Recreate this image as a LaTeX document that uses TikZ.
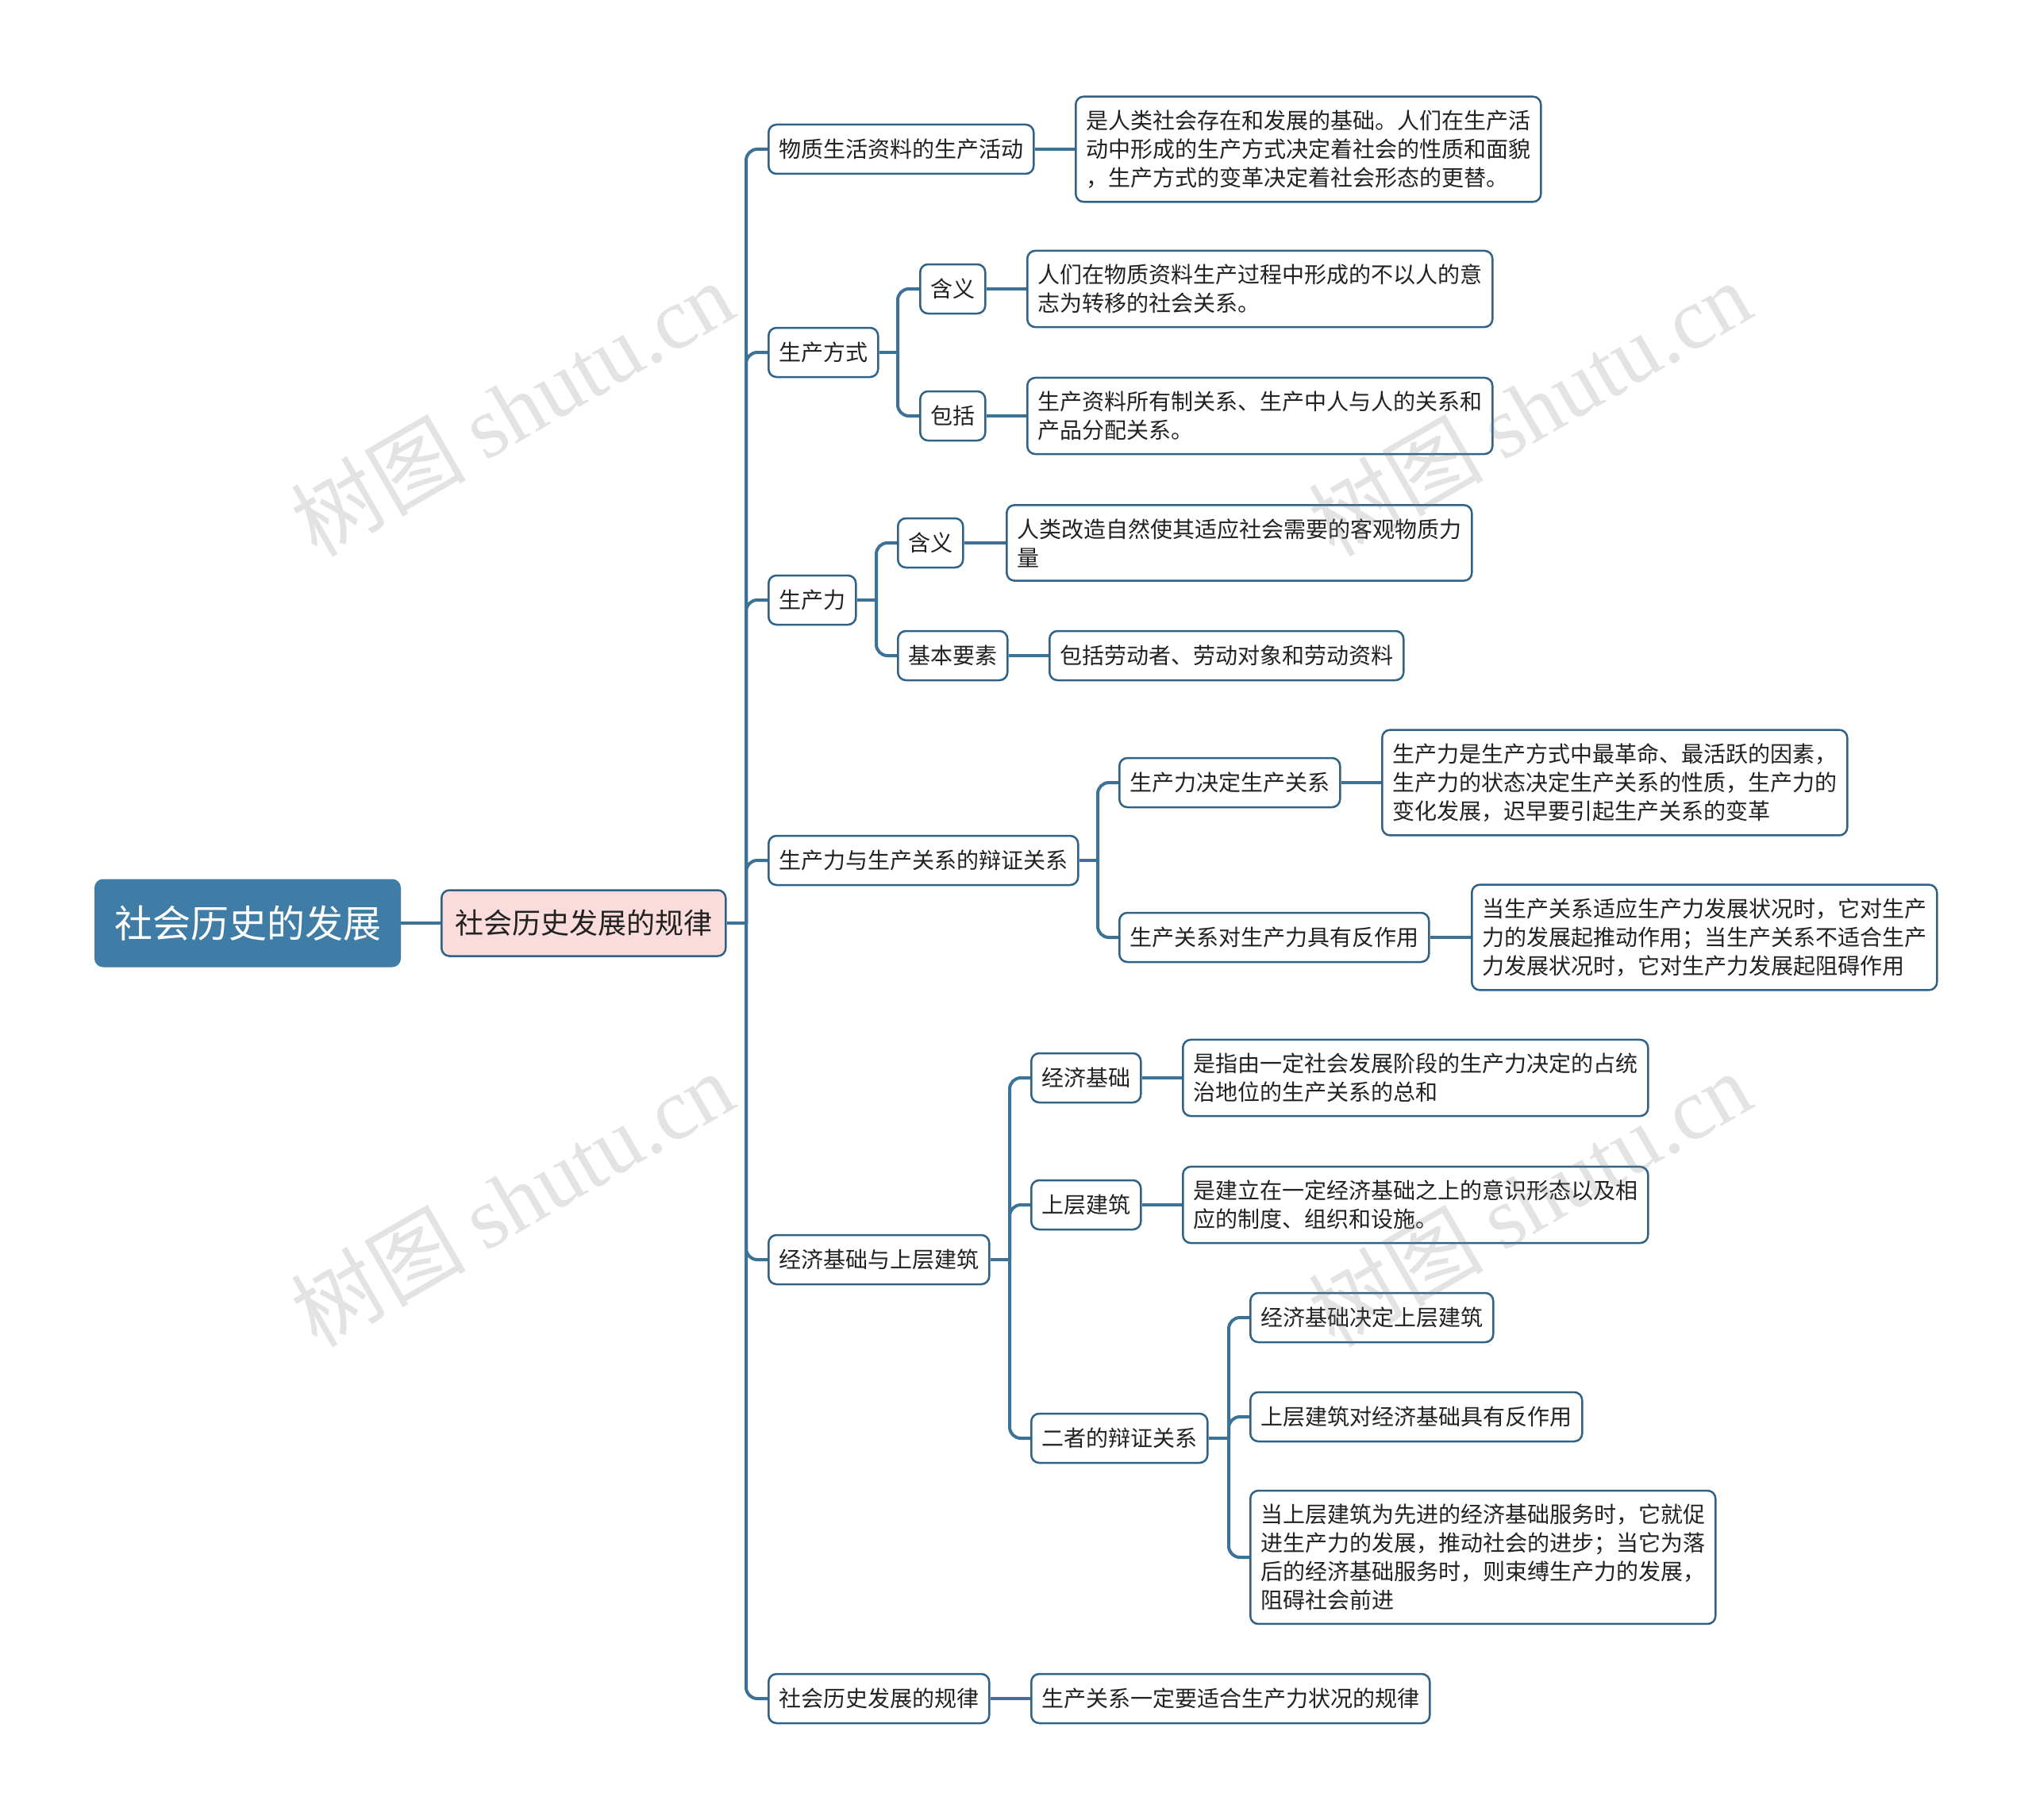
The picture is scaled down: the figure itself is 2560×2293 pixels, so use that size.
\documentclass[tikz,border=0pt]{standalone}
\usepackage{fontspec}
\newfontfamily\cjk{Noto Sans CJK SC}
\newfontfamily\wmlat{Liberation Serif}
\usetikzlibrary{backgrounds}
\definecolor{linec}{HTML}{3D7297}
\definecolor{bordc}{HTML}{2F6286}
\definecolor{rootc}{HTML}{3F7DA6}
\definecolor{pinkc}{HTML}{FBDCDC}
\definecolor{txtc}{HTML}{222222}
\begin{document}
\begin{tikzpicture}[x=1pt,y=-1pt,
  box/.style={draw=bordc, line width=2.5pt, rounded corners=10pt, fill=white,
    font=\cjk\fontsize{28}{36}\selectfont, inner xsep=13pt, inner ysep=17pt,
    minimum height=62pt, align=left, anchor=west, text=txtc},
  rootbox/.style={draw=rootc, fill=rootc, line width=2pt, rounded corners=10pt,
    font=\cjk\fontsize{48}{58}\selectfont, text=white, inner xsep=24pt,
    minimum height=109pt, anchor=west},
  pinkbox/.style={draw=bordc, fill=pinkc, line width=2.5pt, rounded corners=10pt,
    font=\cjk\fontsize{36}{44}\selectfont, text=txtc, inner xsep=17pt,
    minimum height=83pt, anchor=west},
  conn/.style={draw=linec, line width=4pt, rounded corners=14pt},
  wm/.style={rotate=30, text=gray, opacity=0.22, font=\cjk\fontsize{110}{120}\selectfont}
]
\useasboundingbox (0,0) rectangle (2560,2293);

% root and level 1
\node[rootbox] (R) at (119,1163) {社会历史的发展};
\node[pinkbox] (P) at (555,1163) {社会历史发展的规律};

% level 2
\node[box] (A) at (967,188) {物质生活资料的生产活动};
\node[box] (B) at (967,444) {生产方式};
\node[box] (C) at (967,756) {生产力};
\node[box] (D) at (967,1084) {生产力与生产关系的辩证关系};
\node[box] (E) at (967,1587) {经济基础与上层建筑};
\node[box] (F) at (967,2140) {社会历史发展的规律};

% A
\node[box] (Ad) at (1354,188) {是人类社会存在和发展的基础。人们在生产活\\动中形成的生产方式决定着社会的性质和面貌\\，生产方式的变革决定着社会形态的更替。};

% B
\node[box] (B1) at (1158,364) {含义};
\node[box] (B1d) at (1293,364) {人们在物质资料生产过程中形成的不以人的意\\志为转移的社会关系。};
\node[box] (B2) at (1158,524) {包括};
\node[box] (B2d) at (1293,524) {生产资料所有制关系、生产中人与人的关系和\\产品分配关系。};

% C
\node[box] (C1) at (1130,684) {含义};
\node[box] (C1d) at (1267,684) {人类改造自然使其适应社会需要的客观物质力\\量};
\node[box] (C2) at (1130,826) {基本要素};
\node[box] (C2d) at (1321,826) {包括劳动者、劳动对象和劳动资料};

% D
\node[box] (D1) at (1409,986) {生产力决定生产关系};
\node[box] (D1d) at (1740,986) {生产力是生产方式中最革命、最活跃的因素，\\生产力的状态决定生产关系的性质，生产力的\\变化发展，迟早要引起生产关系的变革};
\node[box] (D2) at (1409,1181) {生产关系对生产力具有反作用};
\node[box] (D2d) at (1853,1181) {当生产关系适应生产力发展状况时，它对生产\\力的发展起推动作用；当生产关系不适合生产\\力发展状况时，它对生产力发展起阻碍作用};

% E
\node[box] (E1) at (1298,1358) {经济基础};
\node[box] (E1d) at (1489,1358) {是指由一定社会发展阶段的生产力决定的占统\\治地位的生产关系的总和};
\node[box] (E2) at (1298,1518) {上层建筑};
\node[box] (E2d) at (1489,1518) {是建立在一定经济基础之上的意识形态以及相\\应的制度、组织和设施。};
\node[box] (E3) at (1298,1812) {二者的辩证关系};
\node[box] (E31) at (1574,1660) {经济基础决定上层建筑};
\node[box] (E32) at (1574,1785) {上层建筑对经济基础具有反作用};
\node[box] (E33) at (1574,1962) {当上层建筑为先进的经济基础服务时，它就促\\进生产力的发展，推动社会的进步；当它为落\\后的经济基础服务时，则束缚生产力的发展，\\阻碍社会前进};

% F
\node[box] (Fd) at (1298,2140) {生产关系一定要适合生产力状况的规律};

% junction coordinates
\coordinate (jP) at (940,1163);
\coordinate (jB) at (1131,444);
\coordinate (jC) at (1104,756);
\coordinate (jD) at (1383,1084);
\coordinate (jE) at (1272,1587);
\coordinate (jE3) at (1548,1812);

\begin{scope}[on background layer]
\fill[white] (0,0) rectangle (2560,2293);
\draw[conn] (R.east) -- (P.west);
\draw[conn] (P.east) -- (jP);
\foreach \n in {A,B,C,D,E,F} \draw[conn] (jP) |- (\n.west);
\draw[conn] (A.east) -- (Ad.west);
\draw[conn] (B.east) -- (jB);
\foreach \n in {B1,B2} \draw[conn] (jB) |- (\n.west);
\draw[conn] (B1.east) -- (B1d.west);
\draw[conn] (B2.east) -- (B2d.west);
\draw[conn] (C.east) -- (jC);
\foreach \n in {C1,C2} \draw[conn] (jC) |- (\n.west);
\draw[conn] (C1.east) -- (C1d.west);
\draw[conn] (C2.east) -- (C2d.west);
\draw[conn] (D.east) -- (jD);
\foreach \n in {D1,D2} \draw[conn] (jD) |- (\n.west);
\draw[conn] (D1.east) -- (D1d.west);
\draw[conn] (D2.east) -- (D2d.west);
\draw[conn] (E.east) -- (jE);
\foreach \n in {E1,E2,E3} \draw[conn] (jE) |- (\n.west);
\draw[conn] (E1.east) -- (E1d.west);
\draw[conn] (E2.east) -- (E2d.west);
\draw[conn] (E3.east) -- (jE3);
\foreach \n in {E31,E32,E33} \draw[conn] (jE3) |- (\n.west);
\draw[conn] (F.east) -- (Fd.west);
\end{scope}

% watermarks
\node[wm] (wm1) at (645,514) {树图 {\wmlat shutu.cn}};
\node[wm] (wm2) at (1927,514) {树图 {\wmlat shutu.cn}};
\node[wm] (wm3) at (645,1510) {树图 {\wmlat shutu.cn}};
\node[wm] (wm4) at (1927,1510) {树图 {\wmlat shutu.cn}};
\end{tikzpicture}
\end{document}
